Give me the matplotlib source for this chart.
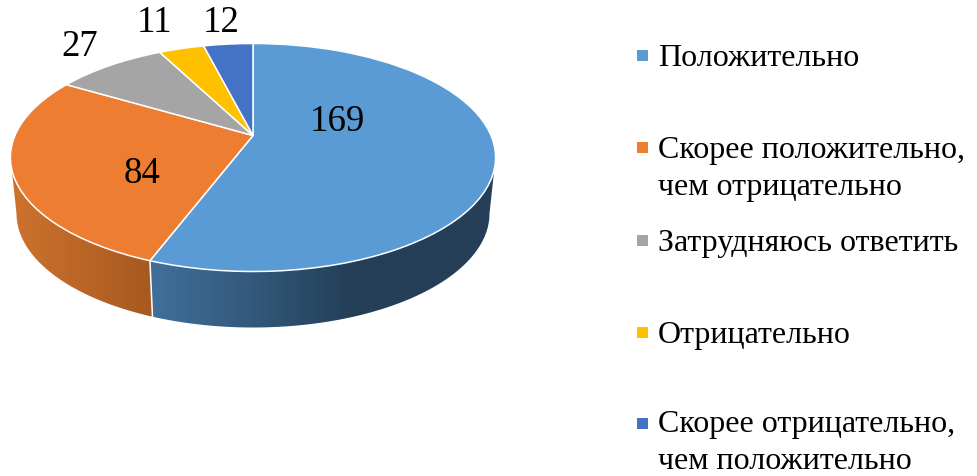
import numpy as np
import matplotlib
matplotlib.use("Agg")
import matplotlib.pyplot as plt
from matplotlib.transforms import Transform
from matplotlib.patches import Rectangle, Polygon
from matplotlib.colors import to_rgb

categories = ["Положительно", "Скорее положительно,\nчем отрицательно", "Затрудняюсь ответить",
              "Отрицательно", "Скорее отрицательно,\nчем положительно"]
values = [169, 84, 27, 11, 12]
colors = ["#5B9BD5", "#ED7D31", "#A5A5A5", "#FFC000", "#4472C4"]

FONT = "Liberation Serif"
W, H = 977, 477
CX, CY = 253.0, 158.5
A, K, RY, OFF = 238.0, 0.193, 114.0, 22.0
DEPTH = 56.0
TAPER = 0.975


def project(v):
    v = np.asarray(v, dtype=float).reshape(-1, 2)
    d = 1 + K * v[:, 1]
    return np.column_stack([CX + A * v[:, 0] / d, CY - (RY * v[:, 1] + OFF) / d])


class Tilt(Transform):
    input_dims = output_dims = 2
    is_separable = False
    has_inverse = False

    def transform_non_affine(self, values):
        return project(values)


fig = plt.figure(figsize=(W / 100, H / 100), dpi=100)
ax = fig.add_axes([0, 0, 1, 1])

wedges, _ = ax.pie(values, colors=colors, startangle=90, counterclock=False,
                   wedgeprops=dict(edgecolor="white", linewidth=1.1, zorder=3))
tilt = Tilt() + ax.transData
for w in wedges:
    w.set_transform(tilt)


def rim(theta_deg):
    t = np.radians(theta_deg)
    return project(np.column_stack([np.sin(t), np.cos(t)]))


def lower(p):
    return np.column_stack([CX + (p[:, 0] - CX) * TAPER, p[:, 1] + DEPTH])


def wall(t0, t1, stops):
    p = rim(np.linspace(t0, t1, 300))
    outline = np.vstack([p, lower(p)[::-1]])
    xs = np.arange(W) + 0.5
    rgb = np.array([to_rgb(s[1]) for s in stops])
    grad = np.stack([np.interp(xs, [s[0] for s in stops], rgb[:, j]) for j in range(3)], axis=-1)[None, :, :]
    im = ax.imshow(grad, extent=(0, W, H, 0), aspect="auto", interpolation="bilinear", zorder=1)
    im.set_clip_path(Polygon(outline, closed=True, transform=ax.transData))


fractions = np.cumsum(values) / np.sum(values) * 360
tangent = np.degrees(np.arccos(-K))
wall(tangent, fractions[0], [(150, "#40709A"), (250, "#33597C"), (350, "#243F57"), (495, "#243F57")])
wall(fractions[0], 360 - tangent, [(10, "#CE732E"), (150, "#A8591F")])
top = rim([fractions[0]])
bot = lower(top)
ax.plot([top[0, 0], bot[0, 0]], [top[0, 1], bot[0, 1]], color="white", lw=1.1, zorder=2)

value_xy = [(337, 122), (142, 174), (80, 47), (155, 23), (221, 23)]
for v, (x, y) in zip(values, value_xy):
    ax.text(x, y, str(v), fontsize=26.5, family=FONT, ha="center", va="center", color="black", zorder=5)

legend_y = [59, 151, 244, 336, 425]
square_y = [56, 148, 241, 333, 424]
for lab, col, y, sy in zip(categories, colors, legend_y, square_y):
    ax.add_patch(Rectangle((637, sy - 5.5), 11, 11, facecolor=col, edgecolor="none", zorder=5))
    for i, line in enumerate(lab.split("\n")):
        ax.text(658, y + i * 36.5, line, fontsize=23, family=FONT, ha="left", va="center", color="black", zorder=5)

ax.set_aspect("auto")
ax.set_xlim(0, W)
ax.set_ylim(H, 0)
ax.axis("off")
fig.savefig("out.png", dpi=100, facecolor="white")
